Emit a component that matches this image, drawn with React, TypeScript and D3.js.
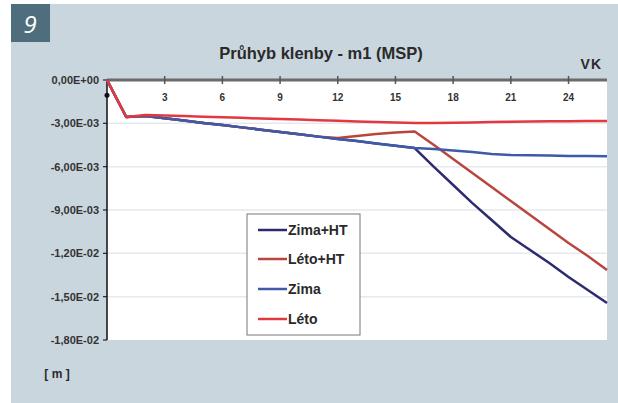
import React, { useEffect } from "react";
import * as d3 from "d3";

const categories = [0,1,2,3,4,5,6,7,8,9,10,11,12,13,14,15,16,17,18,19,20,21,22,23,24,25,26];
const xTickLabels = [3, 6, 9, 12, 15, 18, 21, 24];
const yTicks = [0, -0.003, -0.006, -0.009, -0.012, -0.015, -0.018];

// values in 1e-3 m
const zimaHT = [0,-2.56,-2.49,-2.65,-2.81,-2.97,-3.12,-3.28,-3.44,-3.60,-3.76,-3.92,-4.08,-4.23,-4.39,-4.55,-4.71,-6.02,-7.27,-8.52,-9.69,-10.87,-11.77,-12.67,-13.64,-14.54,-15.44];
const letoHT = [0,-2.56,-2.49,-2.65,-2.81,-2.97,-3.12,-3.28,-3.44,-3.60,-3.76,-3.92,-4.02,-3.88,-3.74,-3.63,-3.57,-4.50,-5.47,-6.44,-7.41,-8.38,-9.35,-10.32,-11.28,-12.18,-13.15];
const zima = [0,-2.56,-2.49,-2.65,-2.81,-2.97,-3.12,-3.28,-3.44,-3.60,-3.76,-3.92,-4.08,-4.23,-4.39,-4.55,-4.71,-4.78,-4.88,-4.98,-5.12,-5.19,-5.21,-5.23,-5.26,-5.26,-5.28];
const leto = [0,-2.56,-2.42,-2.46,-2.49,-2.54,-2.58,-2.62,-2.67,-2.70,-2.74,-2.78,-2.82,-2.87,-2.91,-2.94,-2.98,-2.98,-2.96,-2.94,-2.91,-2.89,-2.87,-2.86,-2.85,-2.84,-2.84];
const axisMarker = -1.05;

const seriesNames = ["Zima+HT", "Léto+HT", "Zima", "Léto"];
const seriesData = [zimaHT, letoHT, zima, leto];
const seriesColors = ["#2c2b70", "#b9453d", "#3f5aa6", "#e2383f"];

const title = "Průhyb klenby - m1 (MSP)";

function fmt(v: number): string {
  if (v === 0) return "0,00E+00";
  const s = v.toExponential(2);
  const [m, e] = s.split("e");
  const ev = parseInt(e, 10);
  const es = (ev < 0 ? "-" : "+") + String(Math.abs(ev)).padStart(2, "0");
  return m.replace(".", ",") + "E" + es;
}

export default function App() {
  useEffect(() => {
    document.body.style.margin = "0";
  }, []);
  const W = 618, H = 403;
  const x = d3.scaleLinear().domain([0, 26]).range([107, 607]);
  const y = d3.scaleLinear().domain([-0.018, 0]).range([340, 80]);
  const line = d3
    .line<number>()
    .x((_, i) => x(categories[i]))
    .y((d) => y(d * 1e-3));
  const font = "'Liberation Sans', Arial, sans-serif";
  const legX = 247, legY = 214, legW = 113, legH = 121;
  const legRows = [230, 259, 289, 319];
  return (
    <svg width={W} height={H} style={{ display: "block" }} fontFamily={font}>
      <rect x={0} y={0} width={W} height={H} fill="#ffffff" />
      <rect x={11} y={4} width={W - 11} height={H - 4} fill="#c9d6de" />
      <rect x={11} y={4} width={39} height={38} fill="#4f6e7d" />
      <text x={30} y={33} fill="#ffffff" fontSize={24} fontStyle="italic" textAnchor="middle" fontFamily="'Open Sans', sans-serif">9</text>
      <text x={321} y={59} fontSize={16.5} fontWeight="bold" fill="#2a2a2a" textAnchor="middle">{title}</text>
      <text x={602} y={69} fontSize={14} fontWeight="bold" fill="#2a2a2a" textAnchor="end" letterSpacing={1}>VK</text>
      <rect x={107} y={80} width={500} height={260} fill="#ffffff" />
      {yTicks.slice(1, -1).map((t) => (
        <line key={"g" + t} x1={108} x2={607} y1={y(t)} y2={y(t)} stroke="#e6e9ec" strokeWidth={1.5} />
      ))}
      {yTicks.map((t) => (
        <g key={"y" + t}>
          <line x1={103} x2={107} y1={y(t)} y2={y(t)} stroke="#222" strokeWidth={1.2} />
          <text x={99} y={y(t) + 4} fontSize={11} fontWeight="bold" fill="#333" textAnchor="end">{fmt(t)}</text>
        </g>
      ))}
      <line x1={107} x2={107} y1={80} y2={340} stroke="#111" strokeWidth={1.5} />
      <line x1={107} x2={607} y1={80} y2={80} stroke="#6b6b6b" strokeWidth={3} />
      {xTickLabels.map((t) => (
        <g key={"x" + t}>
          <line x1={x(t)} x2={x(t)} y1={76} y2={84} stroke="#555" strokeWidth={1.5} />
          <text x={x(t)} y={101} fontSize={10} fontWeight="bold" fill="#333" textAnchor="middle">{t}</text>
        </g>
      ))}
      {seriesData.map((d, i) => (
        <path key={seriesNames[i]} d={line(d) || ""} fill="none" stroke={seriesColors[i]} strokeWidth={2.5} strokeLinejoin="round" />
      ))}
      <circle cx={x(0)} cy={y(axisMarker * 1e-3)} r={2.5} fill="#111" />
      <rect x={legX} y={legY} width={legW} height={legH} fill="#ffffff" stroke="#777" strokeWidth={1} />
      {seriesNames.map((n, i) => (
        <g key={"l" + n}>
          <line x1={258} x2={287} y1={legRows[i]} y2={legRows[i]} stroke={seriesColors[i]} strokeWidth={2.5} />
          <text x={288} y={legRows[i] + 5} fontSize={14} fontWeight="bold" fill="#2a2a2a">{n}</text>
        </g>
      ))}
      <text x={57} y={378} fontSize={12} fontWeight="bold" fill="#2a2a2a" textAnchor="middle">[ m ]</text>
    </svg>
  );
}
